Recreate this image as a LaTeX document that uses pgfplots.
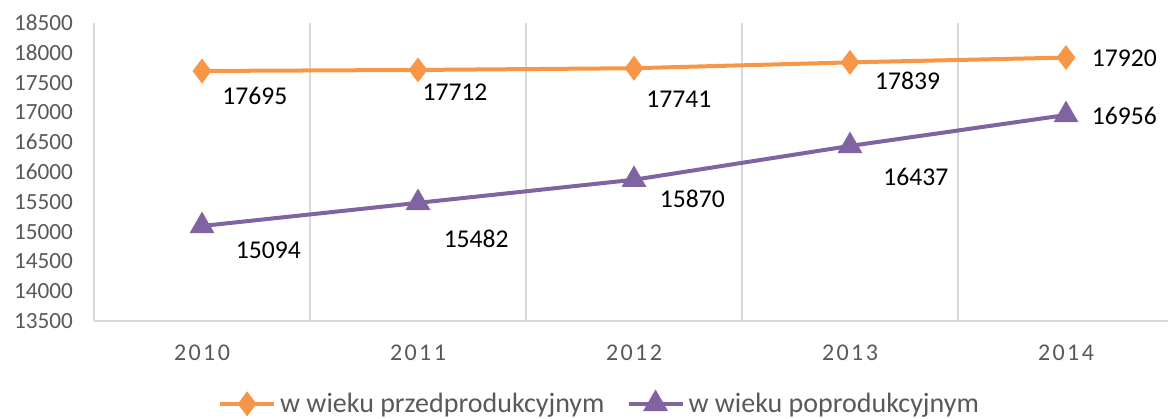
\documentclass[border=0pt]{standalone}
\usepackage{fontspec}
\setmainfont{Carlito}
\newfontfamily\yearfont[LetterSpace=10]{Carlito}
\usepackage{pgfplots}
\usepackage{pgfplotstable}
\pgfplotsset{compat=1.18}
\usetikzlibrary{calc}

\definecolor{serA}{HTML}{F79646}
\definecolor{serB}{HTML}{8064A2}
\definecolor{axgray}{HTML}{D9D9D9}
\definecolor{txtgray}{HTML}{595959}

% dx, dy: label offset (pt) from the point
\pgfplotstableread{
x y dx dy
0 17695 26.4 -12.5
1 17712 18.5 -11.2
2 17741 22.4 -15.6
3 17839 28.8 -9.2
4 17920 29.2 -0.5
}\przed
\pgfplotstableread{
x y dx dy
0 15094 33.2 -12.2
1 15482 29.1 -18.0
2 15870 29.2 -9.8
3 16437 32.9 -15.5
4 16956 29.2 -0.5
}\popro

\begin{document}
\begin{tikzpicture}
\begin{axis}[
  scale only axis,
  width=540pt, height=149pt,
  xmin=-0.5, xmax=4.5,
  ymin=13500, ymax=18500,
  xtick={0,1,2,3,4},
  xticklabels={2010,2011,2012,2013,2014},
  ytick distance=500,
  scaled y ticks=false,
  minor xtick={0.5,1.5,2.5,3.5},
  xminorgrids,
  minor grid style={draw=axgray, line width=0.8pt},
  major tick length=0pt, minor tick length=0pt,
  axis x line*=bottom, axis y line*=left,
  axis line style={draw=axgray, line width=0.8pt, -},
  /pgf/number format/.cd, 1000 sep={}, fixed, assume math mode=true, /pgfplots/.cd,
  yticklabel style={font=\fontsize{11.6}{13}\selectfont, text=txtgray, xshift=-7pt},
  xticklabel style={font=\yearfont\fontsize{12}{14}\selectfont, text=txtgray, yshift=-8.5pt},
  legend columns=2,
  legend style={draw=none, fill=none, at={(0.469,-0.278)}, anchor=center,
    font=\fontsize{14}{16}\selectfont, text=txtgray,
    /tikz/every even column/.append style={column sep=9pt}},
  legend image code/.code={\draw[mark repeat=2,mark phase=2] plot coordinates {(0pt,0pt) (13.5pt,0pt) (27pt,0pt)};},
  nodes near coords,
  visualization depends on={\thisrow{dx} \as \dx},
  visualization depends on={\thisrow{dy} \as \dy},
  nodes near coords style={anchor=center, xshift=\dx pt, yshift=\dy pt,
    font=\fontsize{12.8}{15}\selectfont, text=black},
]
\addplot[serA, line width=2pt, mark=diamond*, mark size=4.6pt] table[x=x,y=y] {\przed};
\addlegendentry{w wieku przedprodukcyjnym}
\addplot[serB, line width=2pt, mark=triangle*, mark size=5.2pt] table[x=x,y=y] {\popro};
\addlegendentry{w wieku poprodukcyjnym}
\coordinate (sw) at (rel axis cs:0,0);
\coordinate (ne) at (rel axis cs:1,1);
\end{axis}
\pgfresetboundingbox
\path[use as bounding box] ($(sw)+(-47pt,-49pt)$) rectangle ($(ne)+(-3pt,11.5pt)$);
\end{tikzpicture}
\end{document}
